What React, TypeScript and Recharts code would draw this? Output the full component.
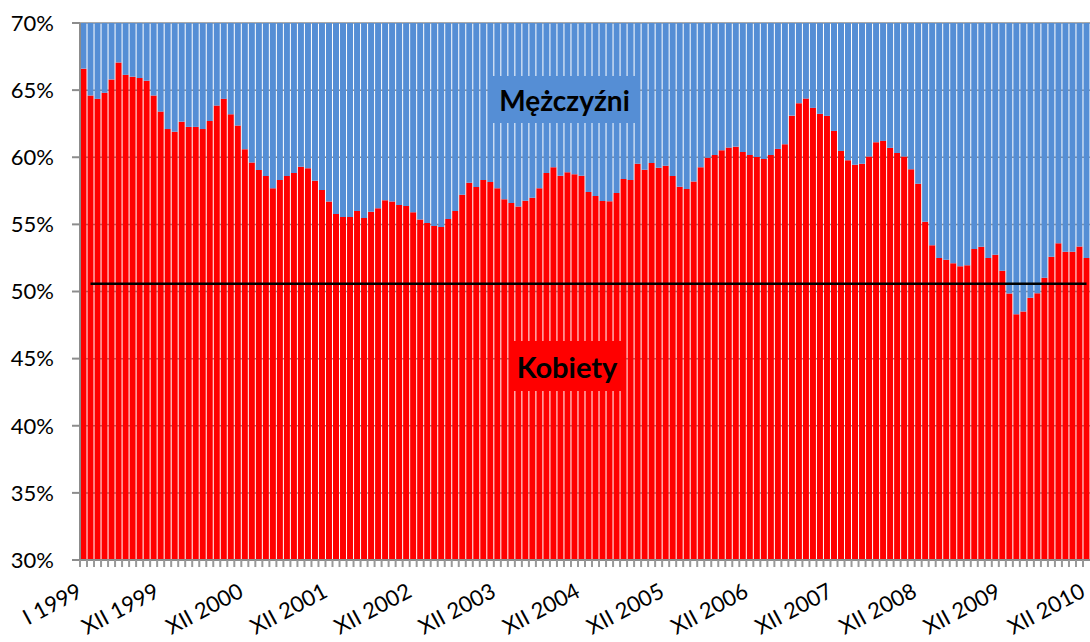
import React from 'react';
import { ComposedChart, Bar, XAxis, YAxis, CartesianGrid, ReferenceLine } from 'recharts';

const lata = [1999, 2000, 2001, 2002, 2003, 2004, 2005, 2006, 2007, 2008, 2009, 2010];
const miesiace = ['I', 'II', 'III', 'IV', 'V', 'VI', 'VII', 'VIII', 'IX', 'X', 'XI', 'XII'];

// udział kobiet (%) - kolejne miesiące I 1999 .. XII 2010
const kobiety = [
  66.6, 64.6, 64.35, 64.8, 65.8, 67.06, 66.14, 66.0, 65.9, 65.7, 64.6, 63.4,
  62.1, 61.9, 62.65, 62.26, 62.26, 62.1, 62.7, 63.85, 64.35, 63.2, 62.36, 60.6,
  59.6, 59.05, 58.6, 57.7, 58.3, 58.6, 58.83, 59.3, 59.18, 58.25, 57.56, 56.7,
  55.77, 55.55, 55.55, 56.0, 55.47, 55.94, 56.2, 56.8, 56.7, 56.44, 56.37, 55.9,
  55.37, 55.1, 54.87, 54.8, 55.4, 56.0, 57.2, 58.1, 57.78, 58.3, 58.16, 57.7,
  56.87, 56.6, 56.34, 56.76, 56.98, 57.7, 58.83, 59.25, 58.63, 58.88, 58.73, 58.63,
  57.41, 57.11, 56.74, 56.72, 57.34, 58.38, 58.3, 59.52, 59.07, 59.57, 59.22, 59.37,
  58.6, 57.8, 57.63, 58.2, 59.25, 59.97, 60.17, 60.52, 60.72, 60.79, 60.4, 60.17,
  60.02, 59.87, 60.17, 60.62, 60.97, 63.1, 64.03, 64.37, 63.68, 63.23, 63.08, 61.96,
  60.47, 59.78, 59.45, 59.52, 60.05, 61.12, 61.22, 60.7, 60.32, 60.05, 59.1, 58.03,
  55.19, 53.45, 52.5, 52.36, 52.11, 51.89, 51.96, 53.16, 53.33, 52.5, 52.73, 51.54,
  49.85, 48.31, 48.51, 49.53, 49.87, 51.02, 52.58, 53.6, 52.96, 52.96, 53.36, 52.5,
];

const srednia = 50.57;
const yTicks = [30, 35, 40, 45, 50, 55, 60, 65, 70];

const kategorie = lata.flatMap((r) => miesiace.map((m) => `${m} ${r}`));

const data = kategorie.map((miesiac, i) => ({
  miesiac,
  kobiety: kobiety[i],
  mezczyzni: 100 - kobiety[i],
}));

const W = 1090;
const H = 642;
const PLOT_W = 1010;
const BAND = PLOT_W / kategorie.length;
const FONT = 'Lato, "Open Sans", sans-serif';

const MonthTick = (props: any) => {
  const { x, y, payload } = props;
  const idx = payload.index ?? props.index;
  const label = payload.value as string;
  const show = idx === 0 || label.startsWith('XII');
  const tx = x;
  const ty = y + 36;
  return (
    <g>
      <line x1={x - BAND / 2} x2={x - BAND / 2} y1={y} y2={y + 7} stroke="#999" strokeWidth={2} />
      {show && (
        <text
          x={tx}
          y={ty}
          textAnchor="end"
          transform={`rotate(-28 ${tx} ${ty})`}
          fontSize={22}
          fontFamily={FONT}
          fill="#000"
        >
          {label}
        </text>
      )}
    </g>
  );
};

const App = () => {
  return (
    <div style={{ position: 'relative', width: W, height: H, fontFamily: FONT }}>
      <style>{'body{margin:0}'}</style>
      <ComposedChart
        width={W}
        height={H}
        data={data}
        margin={{ top: 23, right: 0, left: 0, bottom: 0 }}
        barCategoryGap={0.5}
      >
        <CartesianGrid vertical={false} stroke="#8c8c8c" strokeWidth={1.5} />
        <XAxis
          dataKey="miesiac"
          interval={0}
          height={82}
          tickSize={0}
          tickMargin={0}
          tickLine={false}
          axisLine={{ stroke: '#8c8c8c', strokeWidth: 2 }}
          tick={<MonthTick />}
        />
        <YAxis
          width={80}
          domain={[30, 70]}
          ticks={yTicks}
          allowDataOverflow
          tickFormatter={(v: number) => `${v}%`}
          tickSize={8}
          tickMargin={18}
          axisLine={{ stroke: '#8c8c8c', strokeWidth: 2 }}
          tickLine={{ stroke: '#8c8c8c', strokeWidth: 2 }}
          tick={{ fontSize: 22, fill: '#000', fontFamily: FONT }}
        />
        <Bar dataKey="kobiety" stackId="a" fill="#FF0000" isAnimationActive={false} />
        <Bar dataKey="mezczyzni" stackId="a" fill="#558ED5" isAnimationActive={false} />
        <ReferenceLine
          segment={[
            { x: kategorie[1], y: srednia },
            { x: kategorie[kategorie.length - 1], y: srednia },
          ]}
          stroke="#000"
          strokeWidth={2.5}
        />
      </ComposedChart>
      <div
        style={{
          position: 'absolute',
          left: 493,
          top: 76,
          width: 143,
          height: 47,
          background: '#558ED5',
          display: 'flex',
          alignItems: 'center',
          justifyContent: 'center',
          fontWeight: 700,
          fontSize: 28,
          color: '#000',
        }}
      >
        Mężczyźni
      </div>
      <div
        style={{
          position: 'absolute',
          left: 511,
          top: 341,
          width: 112,
          height: 50,
          background: '#FF0000',
          display: 'flex',
          alignItems: 'center',
          justifyContent: 'center',
          fontWeight: 700,
          fontSize: 29,
          color: '#000',
        }}
      >
        Kobiety
      </div>
    </div>
  );
};

export default App;
